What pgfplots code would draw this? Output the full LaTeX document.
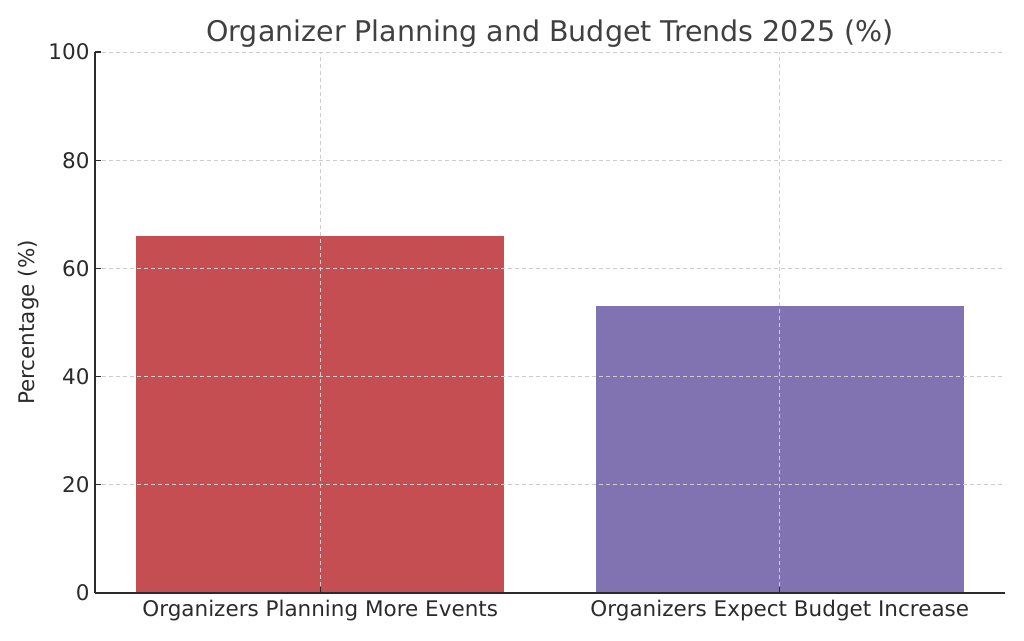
\documentclass[border=0pt]{standalone}
\usepackage{fontspec}
\setmainfont{DejaVu Sans}
\usepackage{pgfplots}
\pgfplotsset{compat=1.18}

\definecolor{barred}{HTML}{C44E52}
\definecolor{barpurple}{HTML}{8172B2}
\definecolor{txt}{HTML}{2B2B2B}
\definecolor{gridc}{HTML}{CCCCCC}

\begin{document}
\begin{tikzpicture}
\begin{axis}[
    scale only axis,
    width=910pt, height=541pt,
    xmin=-0.49, xmax=1.49,
    ymin=0, ymax=100,
    xtick={0,1},
    xticklabels={Organizers Planning More Events, Organizers Expect Budget Increase},
    ytick={0,20,40,60,80,100},
    axis x line*=bottom,
    axis y line*=left,
    axis line style={draw=txt, line width=1.4pt, -},
    tick style={draw=txt, line width=1.2pt},
    major tick length=6pt,
    tick align=inside,
    grid=major,
    major grid style={draw=gridc, line width=0.9pt, dash pattern=on 4pt off 3pt},
    axis on top,
    ylabel={Percentage (\%)},
    title={Organizer Planning and Budget Trends 2025 (\%)},
    tick label style={font=\fontsize{21.5}{25}\selectfont, text=txt},
    /pgf/number format/assume math mode=true,
    label style={font=\fontsize{21.5}{25}\selectfont, text=txt},
    title style={font=\fontsize{28.5}{34}\selectfont, text=txt!90!white, yshift=-5pt},
    ylabel style={yshift=3pt},
    yticklabel style={xshift=-2pt},
    xticklabel style={yshift=-4pt},
]
\addplot[ybar, bar width=0.8, bar shift=0pt, fill=barred, draw=none] coordinates {(0,66)};
\addplot[ybar, bar width=0.8, bar shift=0pt, fill=barpurple, draw=none] coordinates {(1,53)};
\end{axis}
\path (current axis.south west) ++(-95pt,-47pt) rectangle ++(1024pt,640pt);
\end{tikzpicture}
\end{document}
